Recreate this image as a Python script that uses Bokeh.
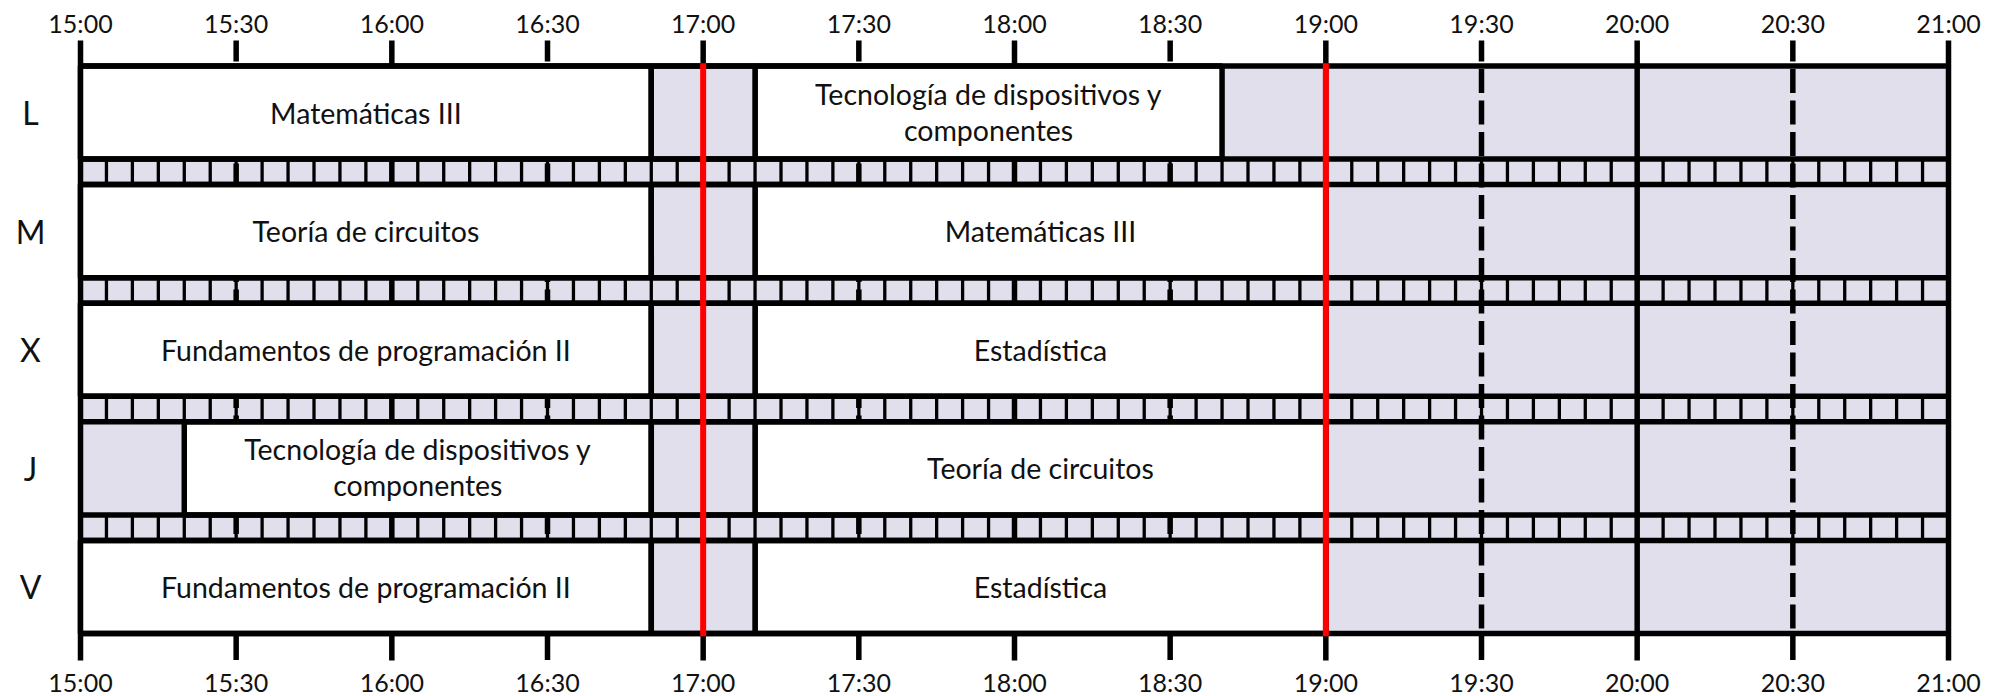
from bokeh.plotting import figure
from bokeh.models import Range1d, ColumnDataSource
from bokeh.embed import file_html
from bokeh.resources import INLINE
from bokeh.core.properties import value

# ---------------- data ----------------
days = ["L", "M", "X", "J", "V"]
day_start = "15:00"
day_end = "21:00"
tick_labels = ["15:00", "15:30", "16:00", "16:30", "17:00", "17:30", "18:00",
               "18:30", "19:00", "19:30", "20:00", "20:30", "21:00"]
class_day = ["L", "L", "M", "M", "X", "X", "J", "J", "V", "V"]
class_start = ["15:00", "17:10", "15:00", "17:10", "15:00", "17:10", "15:20", "17:10", "15:00", "17:10"]
class_end = ["16:50", "18:40", "16:50", "19:00", "16:50", "19:00", "16:50", "19:00", "16:50", "19:00"]
class_name = ["Matemáticas III",
              "Tecnología de dispositivos y\ncomponentes",
              "Teoría de circuitos",
              "Matemáticas III",
              "Fundamentos de programación II",
              "Estadística",
              "Tecnología de dispositivos y\ncomponentes",
              "Teoría de circuitos",
              "Fundamentos de programación II",
              "Estadística"]
break_start = "16:50"
break_end = "17:10"
marker_times = ["17:00", "19:00"]
slot_minutes = 5

# ---------------- layout / style ----------------
W, H, M = 2003, 696, 0
X0, X1 = 80.0, 1948.0          # screen x of day start / end
TOP, ROW_H, STRIP_H = 65.5, 93.1, 25.5
LAV = "#E2DFED"
LW = 5.5
FONT = value("Lato")


def mins(t):
    h, m = t.split(":")
    h0, m0 = day_start.split(":")
    return (int(h) * 60 + int(m)) - (int(h0) * 60 + int(m0))


SPAN = mins(day_end)
ppm = (X1 - X0) / SPAN


def row_top(i):
    return TOP + i * (ROW_H + STRIP_H)


def row_bot(i):
    return row_top(i) + ROW_H


BOTTOM = row_bot(len(days) - 1)

p = figure(width=W, height=H, output_backend="svg", toolbar_location=None,
           x_axis_type=None, y_axis_type=None, min_border=0,
           x_range=Range1d(-(X0 - M) / ppm, (W + M - X0) / ppm),
           y_range=Range1d(H + M, M))
p.outline_line_color = None
p.background_fill_color = "white"
p.border_fill_color = "white"

# lavender base
p.quad(left=[0], right=[SPAN], top=[TOP], bottom=[BOTTOM], fill_color=LAV, line_color=None)

# strip dividers (every slot)
sx, sy0, sy1 = [], [], []
for i in range(len(days) - 1):
    for m in range(slot_minutes, SPAN, slot_minutes):
        sx.append(m)
        sy0.append(row_bot(i))
        sy1.append(row_top(i + 1))
p.segment(x0=sx, y0=sy0, x1=sx, y1=sy1, line_color="black", line_width=3.3)

# grid lines / ticks: hours solid, half-hours dashed
tick_min = [mins(t) for t in tick_labels]
hour_x = [m for m in tick_min if m % 60 == 0]
half_x = [m for m in tick_min if m % 60 != 0]
GY0, GY1 = 40, 660
p.segment(x0=hour_x, y0=[GY0] * len(hour_x), x1=hour_x, y1=[GY1] * len(hour_x),
          line_color="black", line_width=LW)
p.segment(x0=half_x, y0=[GY0] * len(half_x), x1=half_x, y1=[GY1] * len(half_x),
          line_color="black", line_width=LW, line_dash=value([24, 7.5]), line_dash_offset=3)

# class boxes
di = {d: i for i, d in enumerate(days)}
cs = ColumnDataSource(dict(
    left=[mins(t) for t in class_start],
    right=[mins(t) for t in class_end],
    top=[row_top(di[d]) for d in class_day],
    bottom=[row_bot(di[d]) for d in class_day],
))
p.quad(left="left", right="right", top="top", bottom="bottom", source=cs,
       fill_color="white", line_color="black", line_width=LW)

# break boxes
p.quad(left=[mins(break_start)] * len(days), right=[mins(break_end)] * len(days),
       top=[row_top(i) for i in range(len(days))], bottom=[row_bot(i) for i in range(len(days))],
       fill_color=LAV, line_color="black", line_width=LW)

# horizontal lines
hy = []
for i in range(len(days)):
    hy += [row_top(i), row_bot(i)]
p.segment(x0=[0] * len(hy), y0=hy, x1=[SPAN] * len(hy), y1=hy, line_color="black", line_width=LW)

# red markers
rx = [mins(t) for t in marker_times]
p.segment(x0=rx, y0=[TOP - LW / 2] * len(rx), x1=rx, y1=[BOTTOM + LW / 2] * len(rx),
          line_color="#FF0000", line_width=6)

# class texts
tx, ty, tt = [], [], []
LINE_SP = 36
for d, s, e, name in zip(class_day, class_start, class_end, class_name):
    lines = name.split("\n")
    cx = (mins(s) + mins(e)) / 2
    cy = (row_top(di[d]) + row_bot(di[d])) / 2
    n = len(lines)
    for k, ln in enumerate(lines):
        tx.append(cx)
        ty.append(cy + (k - (n - 1) / 2) * LINE_SP - (1 if n > 1 else 0))
        tt.append(ln)
p.text(x=tx, y=ty, text=tt, text_align="center", text_baseline="middle",
       text_font=FONT, text_font_size="28.5px", text_color="#111111")

# day labels
p.text(x=[-(X0 - 30) / ppm] * len(days),
       y=[(row_top(i) + row_bot(i)) / 2 for i in range(len(days))],
       text=days, text_align="center", text_baseline="middle",
       text_font=FONT, text_font_size="32px", text_color="#111111")

# tick labels top and bottom
p.text(x=tick_min, y=[22] * len(tick_min), text=tick_labels, text_align="center",
       text_baseline="middle", text_font=FONT, text_font_size="25px", text_color="#111111")
p.text(x=tick_min, y=[681] * len(tick_min), text=tick_labels, text_align="center",
       text_baseline="middle", text_font=FONT, text_font_size="25px", text_color="#111111")

open("out.html", "w").write(file_html(p, INLINE))
